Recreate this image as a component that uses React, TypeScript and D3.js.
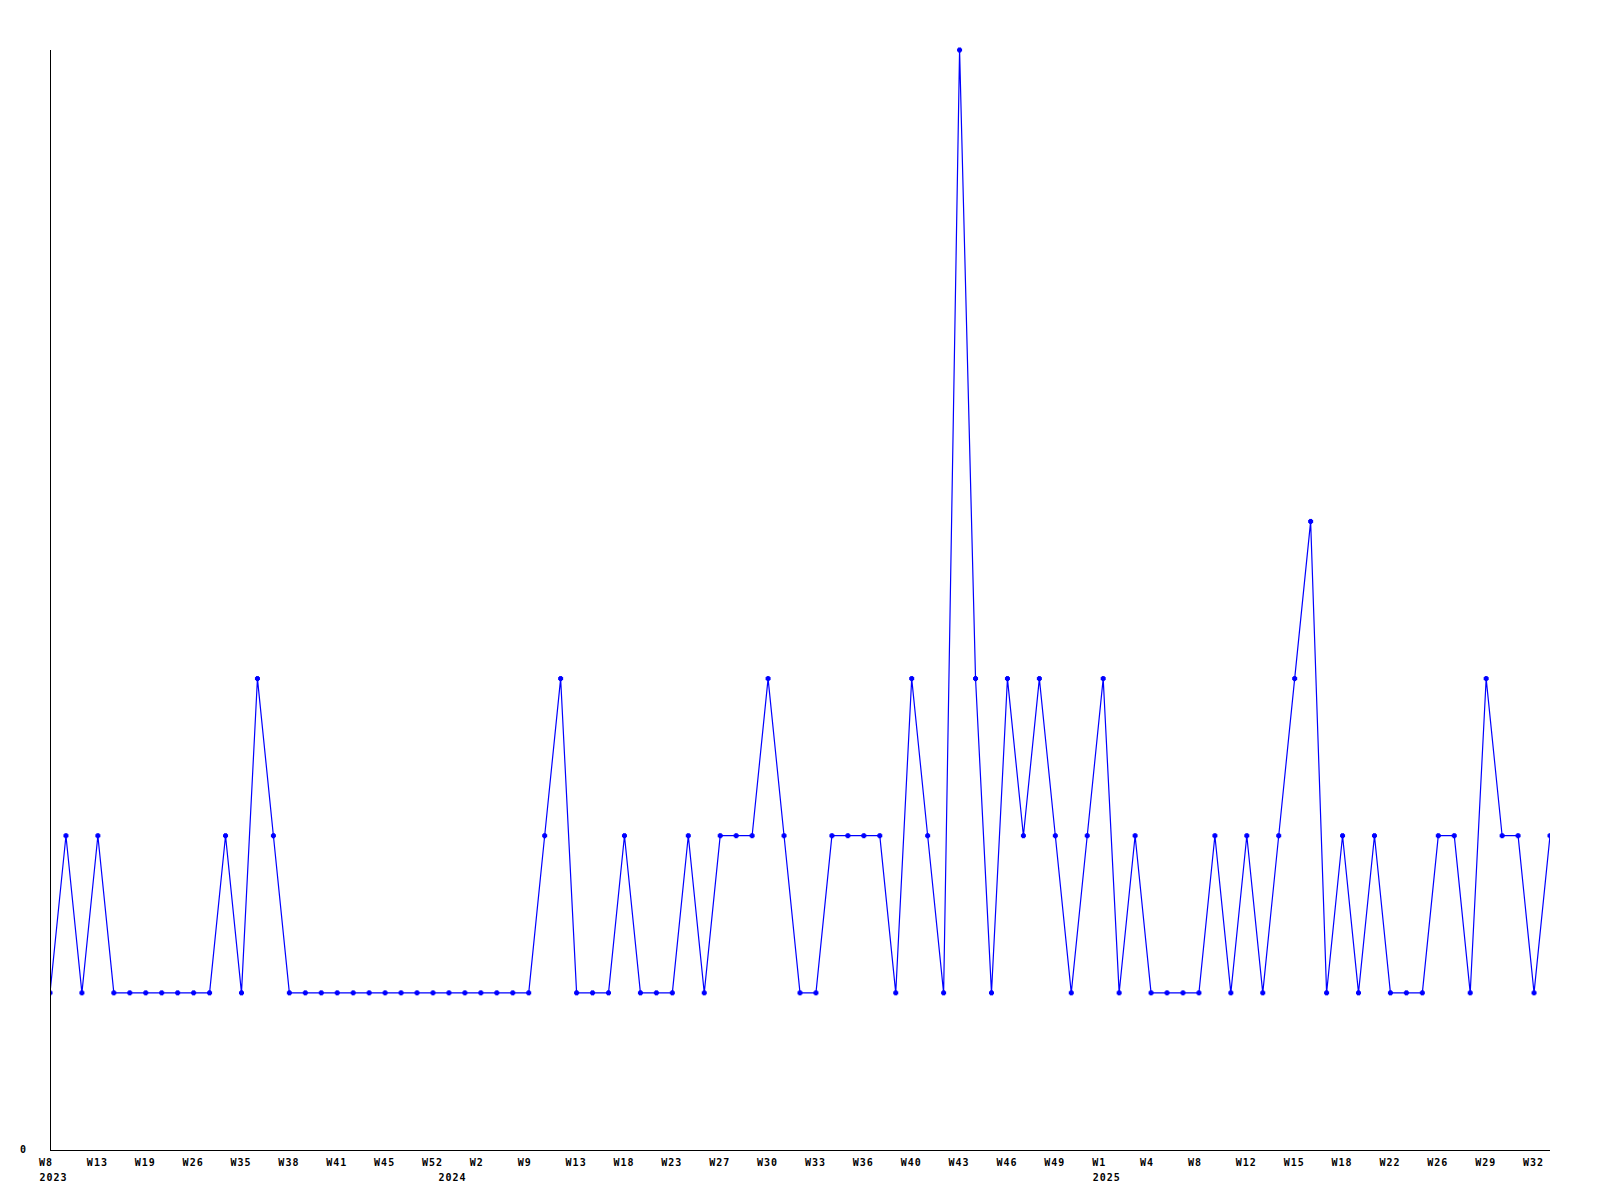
import React from "react";
import * as d3 from "d3";

const values: number[] = [
  1, 2, 1, 2, 1, 1, 1, 1, 1, 1,
  1, 2, 1, 3, 2, 1, 1, 1, 1, 1,
  1, 1, 1, 1, 1, 1, 1, 1, 1, 1,
  1, 2, 3, 1, 1, 1, 2, 1, 1, 1,
  2, 1, 2, 2, 2, 3, 2, 1, 1, 2,
  2, 2, 2, 1, 3, 2, 1, 7, 3, 1,
  3, 2, 3, 2, 1, 2, 3, 1, 2, 1,
  1, 1, 1, 2, 1, 2, 1, 2, 3, 4,
  1, 2, 1, 2, 1, 1, 1, 2, 2, 1,
  3, 2, 2, 1, 2,
];

const tickLabels: string[] = [
  "W8", "W13", "W19", "W26", "W35", "W38", "W41", "W45", "W52", "W2", "W9",
  "W13", "W18", "W23", "W27", "W30", "W33", "W36", "W40", "W43", "W46", "W49",
  "W1", "W4", "W8", "W12", "W15", "W18", "W22", "W26", "W29", "W32",
];
const tickStep = 3;

const yearLabels: string[] = ["2023", "2024", "2025"];
const yearIndex: number[] = [0, 25, 66];

const yTickValues: number[] = [0];

export default function App() {
  const W = 1600, H = 1200;
  const left = 50, right = 1550, top = 50, bottom = 1150;
  const idx = values.map((_, i) => i);
  const x = d3.scalePoint<number>().domain(idx).range([left, right]);
  const y = d3.scaleLinear().domain([0, 7]).range([bottom, top]);
  const line = d3.line<number>().x((_, i) => x(i)!).y((d) => y(d));
  const font = "'DejaVu Sans Mono', monospace";
  return (
    <svg width={W} height={H} style={{ position: "absolute", left: 0, top: 0, background: "#fff" }}>
      <defs>
        <clipPath id="plot">
          <rect x={left} y={top - 5} width={right - left} height={bottom - top + 10} />
        </clipPath>
      </defs>
      <g clipPath="url(#plot)">
        <path d={line(values) ?? ""} fill="none" stroke="#0000ff" strokeWidth={1.2} />
        {values.map((v, i) => (
          <g key={i} fill="#0000ff">
            <rect x={x(i)! - 2.5} y={y(v) - 1.5} width={5} height={3} />
            <rect x={x(i)! - 1.5} y={y(v) - 2.5} width={3} height={5} />
          </g>
        ))}
      </g>
      <g shapeRendering="crispEdges" stroke="#000" strokeWidth={1}>
        <line x1={left + 0.5} x2={left + 0.5} y1={top} y2={bottom} />
        <line x1={left} x2={right} y1={bottom + 0.5} y2={bottom + 0.5} />
      </g>
      <g fontFamily={font} fontWeight="bold" fontSize={10} letterSpacing={1} fill="#000">
        {yTickValues.map((t) => (
          <text key={t} x={20} y={y(t) + 3} textAnchor="start">{String(t)}</text>
        ))}
        {tickLabels.map((lab, k) => (
          <text key={k} x={x(k * tickStep)! - 11} y={1166} textAnchor="start">{lab}</text>
        ))}
        {yearLabels.map((lab, k) => (
          <text key={lab} x={x(yearIndex[k])! - 10.5} y={1181} textAnchor="start">{lab}</text>
        ))}
      </g>
    </svg>
  );
}
